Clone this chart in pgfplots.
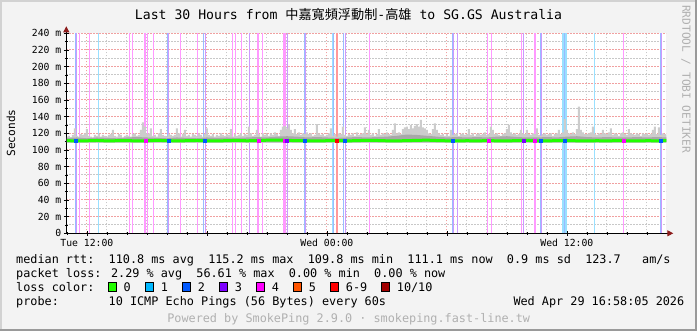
\documentclass[border=0pt]{standalone}
\usepackage{fontspec}
\setmainfont{DejaVu Sans Mono}
\newfontfamily\cjk{Noto Sans CJK TC}
\usepackage{pgfplots}
\pgfplotsset{compat=1.18}
\usetikzlibrary{arrows.meta}
\definecolor{canvas}{HTML}{F3F3F3}
\definecolor{bordlight}{HTML}{D2D2D2}
\definecolor{borddark}{HTML}{9A9A9A}
\definecolor{mgrid}{HTML}{F0A0A0}
\definecolor{ngrid}{HTML}{C8C8C8}
\definecolor{arrowred}{HTML}{8C1C1C}
\definecolor{smokeL}{HTML}{CCCCCC}
\definecolor{smokeD}{HTML}{A8A8A8}
\definecolor{loss0}{HTML}{22FF00}
\definecolor{loss1}{HTML}{00B8FF}
\definecolor{loss2}{HTML}{0059FF}
\definecolor{loss3}{HTML}{7E00FF}
\definecolor{loss4}{HTML}{FF00FF}
\definecolor{loss5}{HTML}{FF5500}
\definecolor{loss6}{HTML}{FF0000}
\definecolor{loss10}{HTML}{A10000}
\definecolor{pinkL}{HTML}{FF99FF}
\definecolor{purpleL}{HTML}{CC99FF}
\definecolor{blueL}{HTML}{99BBFF}
\definecolor{cyanL}{HTML}{99E0FF}
\definecolor{redL}{HTML}{FF9999}
\definecolor{footgrey}{HTML}{B0B0B0}
\newcommand\lgf{\fontsize{11.86}{14}\selectfont}
\begin{document}
\begin{tikzpicture}
\fill[canvas] (0,0) rectangle (697bp,331bp);
\path[use as bounding box] (0,0) rectangle (697bp,331bp);
\draw[bordlight, line width=2bp] (1bp,0) -- (1bp,330bp) -- (697bp,330bp);
\draw[borddark, line width=2bp] (0,1bp) -- (696bp,1bp) -- (696bp,331bp);
\begin{axis}[
  at={(66.3bp,97.7bp)}, anchor=south west,
  width=600bp, height=200bp, scale only axis,
  xmin=-1.03, xmax=28.97, ymin=0, ymax=240,
  axis background/.style={fill=white},
  axis x line*=bottom, axis y line*=left,
  axis line style={black, line width=1bp},
  x axis line style={-{Triangle[length=6bp,width=6bp,color=arrowred]}, shorten >=-7bp},
  y axis line style={-{Triangle[length=6bp,width=6bp,color=arrowred]}, shorten >=-7bp},
  xtick={0,6,12,18,24},
  xticklabels={Tue 12:00,,Wed 00:00,,Wed 12:00},
  minor xtick={-1,0,...,28},
  ytick={0,20,...,240},
  yticklabels={0,20 m,40 m,60 m,80 m,100 m,120 m,140 m,160 m,180 m,200 m,220 m,240 m},
  minor ytick={10,30,...,230},
  grid=both,
  major grid style={mgrid, line width=1bp, dash pattern=on 1.5bp off 1.5bp},
  minor grid style={ngrid, line width=1bp, dash pattern=on 1.5bp off 1.5bp},
  tick align=center, major tick length=5bp, minor tick length=3bp,
  tick style={black, line width=0.8bp},
  ticklabel style={font=\fontsize{9.8}{11}\selectfont},
  yticklabel style={xshift=1bp},
]
% loss background lines
\addplot[ycomb, draw=pinkL, line width=1bp, mark=none] coordinates {(-0.35,240)(0.15,240)(2.15,240)(2.30,240)(2.90,240)(2.95,240)(3.02,240)(3.35,240)(4.685,240)(5.52,240)(7.30,240)(7.45,240)(7.75,240)(8.55,240)(8.60,240)(8.76,240)(9.85,240)(9.90,240)(9.95,240)(14.15,240)(20.05,240)(20.25,240)(21.71,240)(22.385,240)(22.435,240)(26.85,240)};
\addplot[ycomb, draw=purpleL, line width=1bp, mark=none] coordinates {(-0.54,240)(4.10,240)(5.91,240)(8.135,240)(10.02,240)(10.91,240)(12.91,240)(18.31,240)(18.51,240)(21.85,240)(22.71,240)(28.71,240)};
\addplot[ycomb, draw=blueL, line width=1bp, mark=none] coordinates {(-0.59,240)(4.05,240)(5.85,240)(10.86,240)(12.31,240)(12.85,240)(18.26,240)(22.66,240)(23.885,240)(28.66,240)};
\addplot[ycomb, draw=cyanL, line width=1bp, mark=none] coordinates {(0.60,240)(12.26,240)(23.785,240)(23.835,240)(23.935,240)(23.985,240)(25.40,240)};
\addplot[ycomb, draw=redL, line width=1bp, mark=none] coordinates {(12.47,240)(12.52,240)};
% smoke (upper envelope, then lower edge back)
\addplot[fill=smokeL, draw=none, const plot mark mid] coordinates {
(-1.0,116)(-0.9,117)(-0.8,115)(-0.7,118)(-0.6,126)(-0.5,117)(-0.4,116)(-0.3,119)(-0.2,118)(-0.1,120)
(0.0,125)(0.1,117)(0.2,116)(0.3,115)(0.4,118)(0.5,117)(0.6,119)(0.7,116)(0.8,118)(0.9,117)
(1.0,116)(1.1,118)(1.2,119)(1.3,124)(1.4,117)(1.5,116)(1.6,119)(1.7,118)(1.8,115)(1.9,117)
(2.0,118)(2.1,117)(2.2,116)(2.3,119)(2.4,120)(2.5,117)(2.6,118)(2.7,124)(2.8,133)(2.9,128)
(3.0,119)(3.1,120)(3.2,126)(3.3,117)(3.4,118)(3.5,116)(3.6,120)(3.7,125)(3.8,118)(3.9,117)
(4.0,116)(4.1,119)(4.2,118)(4.3,117)(4.4,118)(4.5,126)(4.6,120)(4.7,116)(4.8,119)(4.9,124)
(5.0,117)(5.1,118)(5.2,116)(5.3,119)(5.4,118)(5.5,117)(5.6,120)(5.7,118)(5.8,116)(5.9,119)
(6.0,126)(6.1,118)(6.2,117)(6.3,119)(6.4,116)(6.5,118)(6.6,117)(6.7,120)(6.8,118)(6.9,117)
(7.0,119)(7.1,118)(7.2,125)(7.3,116)(7.4,119)(7.5,117)(7.6,118)(7.7,120)(7.8,117)(7.9,119)
(8.0,118)(8.1,128)(8.2,120)(8.3,117)(8.4,118)(8.5,124)(8.6,119)(8.7,116)(8.8,120)(8.9,118)
(9.0,119)(9.1,117)(9.2,120)(9.3,118)(9.4,121)(9.5,119)(9.6,117)(9.7,124)(9.8,128)(9.9,129)
(10.0,126)(10.1,130)(10.2,124)(10.3,120)(10.4,125)(10.5,119)(10.6,121)(10.7,118)(10.8,120)(10.9,119)
(11.0,121)(11.1,119)(11.2,120)(11.3,117)(11.4,118)(11.5,131)(11.6,120)(11.7,118)(11.8,119)(11.9,117)
(12.0,118)(12.1,120)(12.2,126)(12.3,117)(12.4,119)(12.5,116)(12.6,120)(12.7,119)(12.8,128)(12.9,118)
(13.0,117)(13.1,119)(13.2,118)(13.3,120)(13.4,117)(13.5,121)(13.6,118)(13.7,119)(13.8,120)(13.9,127)
(14.0,119)(14.1,124)(14.2,118)(14.3,120)(14.4,117)(14.5,119)(14.6,125)(14.7,118)(14.8,120)(14.9,119)
(15.0,121)(15.1,119)(15.2,118)(15.3,124)(15.4,132)(15.5,120)(15.6,121)(15.7,119)(15.8,125)(15.9,127)
(16.0,128)(16.1,125)(16.2,130)(16.3,126)(16.4,129)(16.5,131)(16.6,128)(16.7,136)(16.8,127)(16.9,126)
(17.0,124)(17.1,120)(17.2,119)(17.3,125)(17.4,132)(17.5,124)(17.6,120)(17.7,118)(17.8,119)(17.9,117)
(18.0,119)(18.1,117)(18.2,124)(18.3,118)(18.4,119)(18.5,120)(18.6,117)(18.7,119)(18.8,120)(18.9,118)
(19.0,119)(19.1,125)(19.2,118)(19.3,120)(19.4,117)(19.5,119)(19.6,120)(19.7,118)(19.8,119)(19.9,121)
(20.0,118)(20.1,119)(20.2,128)(20.3,124)(20.4,119)(20.5,120)(20.6,118)(20.7,117)(20.8,119)(20.9,120)
(21.0,125)(21.1,130)(21.2,121)(21.3,119)(21.4,120)(21.5,118)(21.6,119)(21.7,124)(21.8,120)(21.9,119)
(22.0,124)(22.1,119)(22.2,118)(22.3,120)(22.4,119)(22.5,126)(22.6,118)(22.7,117)(22.8,119)(22.9,120)
(23.0,118)(23.1,119)(23.2,120)(23.3,117)(23.4,119)(23.5,120)(23.6,124)(23.7,119)(23.8,121)(23.9,137)
(24.0,124)(24.1,120)(24.2,119)(24.3,121)(24.4,119)(24.5,125)(24.6,152)(24.7,124)(24.8,121)(24.9,119)
(25.0,119)(25.1,120)(25.2,121)(25.3,128)(25.4,119)(25.5,118)(25.6,120)(25.7,119)(25.8,124)(25.9,120)
(26.0,119)(26.1,121)(26.2,126)(26.3,118)(26.4,120)(26.5,119)(26.6,117)(26.7,120)(26.8,121)(26.9,119)
(27.0,118)(27.1,125)(27.2,120)(27.3,119)(27.4,118)(27.5,120)(27.6,119)(27.7,117)(27.8,120)(27.9,119)
(28.0,120)(28.1,118)(28.2,119)(28.3,124)(28.4,128)(28.5,119)(28.6,127)(28.7,118)(28.8,120)(28.9,119)(29.0,118)
(29.0,108.5)(-1.0,108.5)} -- cycle;
\addplot[fill=smokeD, draw=none] coordinates {
(-1,114.5)(-0.5,115)(0,114)(0.5,115)(1,114.5)(1.5,114)(2,115)(2.5,115.5)(3,115)(3.5,114.5)(4,114)(4.5,115)(5,114.5)(5.5,114)(6,115)(6.5,114.5)(7,115)(7.5,114.5)(8,115)(8.5,115.5)(9,115)(9.5,116)(10,116.5)(10.5,116)(11,115)(11.5,115.5)(12,115)(12.5,114.5)(13,115)(13.5,115.5)(14,115)(14.5,115.5)(15,116)(15.5,117)(16,118.5)(16.5,118)(17,117)(17.5,116)(18,115)(18.5,115.5)(19,115)(19.5,115.5)(20,115)(20.5,116)(21,116.5)(21.5,115.5)(22,115)(22.5,115)(23,115.5)(23.5,115)(24,116)(24.5,116.5)(25,115.5)(25.5,115)(26,115.5)(26.5,115)(27,115)(27.5,115.5)(28,115)(28.5,115.5)(29,115)
(29,109.5)(-1,109.5)} -- cycle;
% median
\addplot[loss0, line width=3bp, mark=none] coordinates {
(-1,111.2)(-0.5,110.8)(0,111.0)(0.5,111.4)(1,110.9)(1.5,111.1)(2,111.3)(2.5,110.8)(3,111.0)(3.5,111.5)(4,111.2)(4.5,110.9)(5,111.1)(5.5,111.4)(6,111.0)(6.5,110.8)(7,111.2)(7.5,111.5)(8,111.0)(8.5,111.3)(9,111.7)(9.5,111.9)(10,111.5)(10.5,111.2)(11,111.0)(11.5,110.8)(12,111.1)(12.5,111.3)(13,110.9)(13.5,111.2)(14,111.6)(14.5,111.4)(15,111.0)(15.5,110.9)(16,111.2)(16.5,111.5)(17,111.8)(17.5,111.3)(18,111.0)(18.5,110.8)(19,111.1)(19.5,110.9)(20,111.2)(20.5,111.0)(21,110.8)(21.5,111.3)(22,111.5)(22.5,111.0)(23,110.9)(23.5,111.2)(24,111.4)(24.5,111.0)(25,110.8)(25.5,111.1)(26,110.9)(26.5,111.2)(27,111.0)(27.5,110.8)(28,111.1)(28.5,111.0)(29,111.1)};
\addplot[only marks, mark=square*, mark size=1.5bp, color=loss2] coordinates {(-0.57,111)(4.07,111)(5.88,111)(10.88,111)(12.88,111)(18.28,111)(22.68,111)(23.88,111)(28.68,111)};
\addplot[only marks, mark=square*, mark size=1.5bp, color=loss4] coordinates {(2.95,111)(8.6,111)(9.9,111)(20.1,111)(22.4,111)(26.85,111)};
\addplot[only marks, mark=square*, mark size=1.5bp, color=loss3] coordinates {(10.0,111)(21.85,111)};
\addplot[only marks, mark=square*, mark size=1.5bp, color=loss6] coordinates {(12.5,111)};
\end{axis}
% title, labels
\node[anchor=base] at (348.5bp,311.7bp) {\fontsize{13.2}{15}\selectfont Last 30 Hours from {\cjk 中嘉寬頻浮動制}-{\cjk 高雄} to SG.GS Australia};
\node[rotate=90] at (11bp,198bp) {\fontsize{11.2}{13}\selectfont Seconds};
\node[rotate=-90, anchor=west, text=footgrey, inner sep=0] at (686bp,326bp) {\fontsize{11.2}{13}\selectfont RRDTOOL / TOBI OETIKER};
% legend
\node[anchor=base west, inner sep=0] at (16bp,67.7bp) {\lgf median rtt:~~110.8 ms avg~~115.2 ms max~~109.8 ms min~~111.1 ms now~~0.9 ms sd~~123.7~~~am/s};
\node[anchor=base west, inner sep=0] at (16bp,53.7bp) {\lgf packet loss: 2.29 \% avg~~56.61 \% max~~0.00 \% min~~0.00 \% now};
\node[anchor=base west, inner sep=0] at (16bp,39.7bp) {\lgf loss color:};
\foreach \bx/\col/\lab in {108.3/loss0/0,145.7/loss1/1,182.7/loss2/2,219.7/loss3/3,256.7/loss4/4,293.7/loss5/5,330.7/loss6/6-9,381.7/loss10/10\slash 10}{
  \filldraw[fill=\col, draw=black, line width=0.8bp] (\bx bp,39.7bp) rectangle ++(8bp,9bp);
  \node[anchor=base west, inner sep=0] at (\bx bp+15bp,39.7bp) {\lgf \lab};
}
\node[anchor=base west, inner sep=0] at (16bp,26bp) {\lgf probe:~~~~~~~10 ICMP Echo Pings (56 Bytes) every 60s};
\node[anchor=base west, inner sep=0] at (513.3bp,26bp) {\lgf Wed Apr 29 16:58:05 2026};
\node[anchor=base, text=footgrey, inner sep=0] at (348.7bp,8.7bp) {\lgf Powered by SmokePing 2.9.0 · smokeping.fast-line.tw};
\end{tikzpicture}
\end{document}
